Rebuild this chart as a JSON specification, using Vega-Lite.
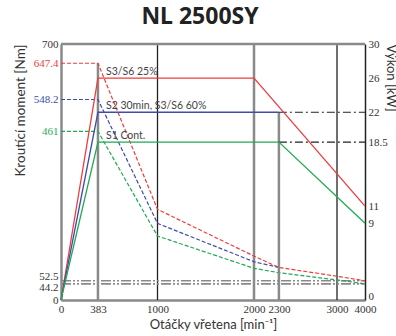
{
  "$schema": "https://vega.github.io/schema/vega-lite/v6.json",
  "width": 304,
  "height": 256,
  "autosize": "none",
  "padding": {"left": 61, "top": 44, "right": 31, "bottom": 36},
  "background": "white",
  "config": {
    "font": "Lato",
    "view": {"stroke": null},
    "axis": {"labelFont": "Liberation Sans Narrow", "titleFont": "Lato", "labelColor": "#333", "titleColor": "#333", "titleFontWeight": "normal", "labelFontSize": 11, "titleFontSize": 13, "ticks": false, "grid": false, "labelPadding": 3, "format": ".6~g"}
  },
  "title": {"text": "NL 2500SY", "font": "Noto Sans", "fontSize": 23, "fontWeight": "bold", "color": "#222", "anchor": "middle", "dx": -13, "offset": 9},
  "datasets": {
    "torque": [
      {"series": "S3", "rpm": 0, "nm": 647.4}, {"series": "S3", "rpm": 383, "nm": 647.4}, {"series": "S3", "rpm": 1000, "nm": 248}, {"series": "S3", "rpm": 2000, "nm": 120}, {"series": "S3", "rpm": 2300, "nm": 89}, {"series": "S3", "rpm": 3000, "nm": 65}, {"series": "S3", "rpm": 4000, "nm": 52.5},
      {"series": "S2", "rpm": 0, "nm": 548.2}, {"series": "S2", "rpm": 383, "nm": 548.2}, {"series": "S2", "rpm": 1000, "nm": 209.5}, {"series": "S2", "rpm": 2000, "nm": 104.6}, {"series": "S2", "rpm": 2300, "nm": 89},
      {"series": "S1", "rpm": 0, "nm": 461}, {"series": "S1", "rpm": 383, "nm": 461}, {"series": "S1", "rpm": 1000, "nm": 175}, {"series": "S1", "rpm": 2000, "nm": 86.6}, {"series": "S1", "rpm": 2300, "nm": 74.6}, {"series": "S1", "rpm": 3000, "nm": 55}, {"series": "S1", "rpm": 4000, "nm": 44.2}
    ],
    "power": [
      {"series": "S3", "rpm": 0, "kw": 0}, {"series": "S3", "rpm": 383, "kw": 26}, {"series": "S3", "rpm": 2000, "kw": 26}, {"series": "S3", "rpm": 4000, "kw": 11},
      {"series": "S2", "rpm": 0, "kw": 0}, {"series": "S2", "rpm": 383, "kw": 22}, {"series": "S2", "rpm": 2300, "kw": 22},
      {"series": "S1", "rpm": 0, "kw": 0}, {"series": "S1", "rpm": 383, "kw": 18.5}, {"series": "S1", "rpm": 2300, "kw": 18.5}, {"series": "S1", "rpm": 4000, "kw": 9}
    ],
    "vrules": [
      {"rpm": 383, "nm": 0, "nm2": 647.4, "kind": "gray"},
      {"rpm": 2000, "nm": 0, "nm2": 700, "kind": "gray"},
      {"rpm": 1000, "nm": 0, "nm2": 700, "kind": "black"},
      {"rpm": 3000, "nm": 0, "nm2": 700, "kind": "black"}
    ],
    "border": [{"rpm": 0, "rpm2": 4000, "nm": 700}],
    "glines": [{"rpm": 0, "rpm2": 4000, "nm": 52.5}, {"rpm": 0, "rpm2": 4000, "nm": 44.2}],
    "prules": [{"rpm": 2300, "kw": 0, "kw2": 22}],
    "blines": [{"rpm": 2300, "rpm2": 4000, "kw": 22}, {"rpm": 2300, "rpm2": 4000, "kw": 18.5}],
    "labels": [
      {"rpm": 383, "kw": 26, "text": "S3/S6 25%"},
      {"rpm": 383, "kw": 22, "text": "S2 30min, S3/S6 60%"},
      {"rpm": 383, "kw": 18.5, "text": "S1 Cont."}
    ]
  },
  "encoding": {
    "x": {"field": "rpm", "type": "quantitative", "scale": {"domain": [0, 2000, 3000, 4000], "range": [0, 193, 276, 304], "nice": false, "zero": false},
      "axis": {"title": "Otáčky vřetena [min⁻¹]", "values": [0, 383, 1000, 2000, 2300, 3000, 4000], "labelFlush": false, "labelOverlap": false, "domainColor": "#8a8a8a", "domainWidth": 2.5, "titlePadding": 4}}
  },
  "layer": [
    {
      "encoding": {
        "y": {"field": "nm", "type": "quantitative", "scale": {"domain": [0, 700], "nice": false},
          "axis": {"title": "Kroutící moment [Nm]", "values": [0, 44.2, 52.5, 461, 548.2, 647.4, 700], "labelOverlap": false, "domainColor": "#8a8a8a", "domainWidth": 2.5, "titlePadding": 6, "titleAnchor": "end", "titleFontSize": 13.5,
            "labelColor": {"condition": [{"test": "datum.value == 647.4", "value": "#f03c3c"}, {"test": "datum.value == 548.2", "value": "#3c4ea8"}, {"test": "datum.value == 461", "value": "#1faa55"}], "value": "#333"},
            "labelOffset": {"condition": [{"test": "datum.value == 52.5", "value": -4}, {"test": "datum.value == 44.2", "value": 4}], "value": 0}}}
      },
      "layer": [
        {
          "data": {"name": "vrules"},
          "transform": [{"filter": "datum.kind == 'gray'"}],
          "mark": {"type": "rule", "color": "#8a8a8a", "strokeWidth": 2.5},
          "encoding": {"y2": {"field": "nm2"}}
        },
        {
          "data": {"name": "vrules"},
          "transform": [{"filter": "datum.kind == 'black'"}],
          "mark": {"type": "rule", "color": "#222", "strokeWidth": 1.3},
          "encoding": {"y2": {"field": "nm2"}}
        },
        {
          "data": {"name": "border"},
          "mark": {"type": "rule", "color": "#8a8a8a", "strokeWidth": 2.5},
          "encoding": {"x2": {"field": "rpm2"}}
        },
        {
          "data": {"name": "glines"},
          "mark": {"type": "rule", "color": "#8a8a8a", "strokeWidth": 1.6, "strokeDash": [10, 2, 2, 2, 2, 2]},
          "encoding": {"x2": {"field": "rpm2"}}
        },
        {
          "data": {"name": "torque"},
          "mark": {"type": "line", "strokeWidth": 1.2, "strokeDash": [4, 2]},
          "encoding": {
            "color": {"field": "series", "type": "nominal", "scale": {"domain": ["S3", "S2", "S1"], "range": ["#f03c3c", "#3c4ea8", "#1faa55"]}, "legend": null},
            "order": {"field": "rpm", "type": "quantitative"}
          }
        }
      ]
    },
    {
      "encoding": {
        "y": {"field": "kw", "type": "quantitative", "scale": {"domain": [0, 30], "nice": false},
          "axis": {"orient": "right", "title": "Výkon [kW]", "values": [0, 9, 11, 18.5, 22, 26, 30], "labelOverlap": false, "domainColor": "#222", "domainWidth": 1.5, "titleAnchor": "end", "titleAngle": 90, "titleAlign": "left", "titlePadding": -4,
            "labelOffset": {"condition": {"test": "datum.value == 0", "value": -4}, "value": 0}}}
      },
      "layer": [
        {
          "data": {"name": "prules"},
          "mark": {"type": "rule", "color": "#8a8a8a", "strokeWidth": 2.5},
          "encoding": {"y2": {"field": "kw2"}}
        },
        {
          "data": {"name": "blines"},
          "mark": {"type": "rule", "color": "#222", "strokeWidth": 1.2, "strokeDash": [8, 3, 2, 3]},
          "encoding": {"x2": {"field": "rpm2"}}
        },
        {
          "data": {"name": "power"},
          "mark": {"type": "line", "strokeWidth": 1.3},
          "encoding": {
            "color": {"field": "series", "type": "nominal", "scale": {"domain": ["S3", "S2", "S1"], "range": ["#f03c3c", "#3c4ea8", "#1faa55"]}, "legend": null},
            "order": {"field": "rpm", "type": "quantitative"}
          }
        },
        {
          "data": {"name": "labels"},
          "mark": {"type": "text", "align": "left", "baseline": "alphabetic", "dx": 8, "dy": -3, "fontSize": 10.5, "color": "#444", "font": "Lato"},
          "encoding": {"text": {"field": "text"}}
        }
      ]
    }
  ],
  "resolve": {"scale": {"y": "independent"}, "axis": {"y": "independent"}}
}
